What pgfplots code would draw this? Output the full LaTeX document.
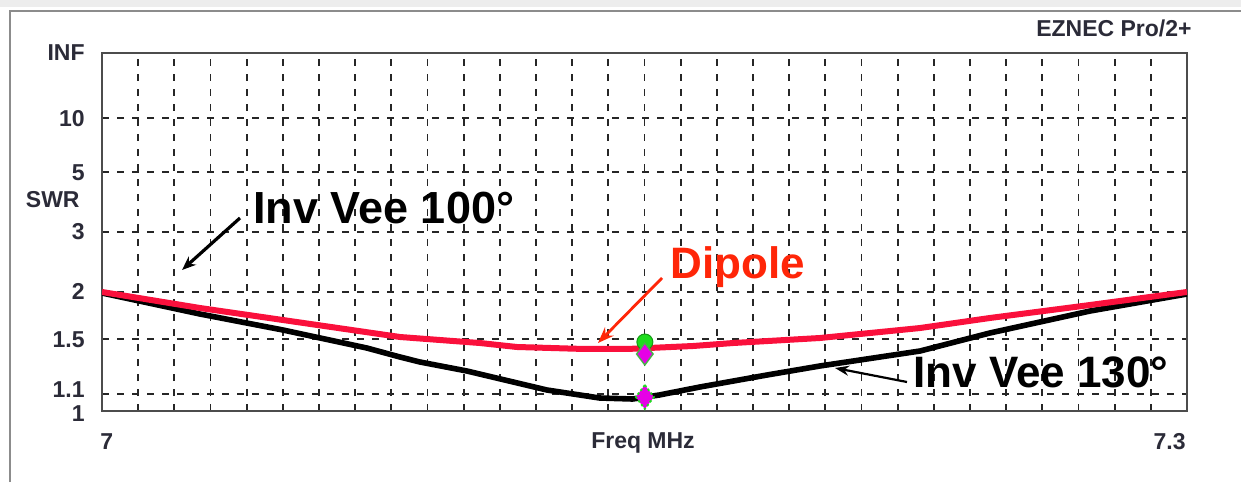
\documentclass[border=0pt]{standalone}
\usepackage{fontspec}
\setmainfont{Liberation Sans}
\usepackage{pgfplots}
\pgfplotsset{compat=1.18}
\usetikzlibrary{arrows.meta}
\definecolor{gridc}{HTML}{262626}
\definecolor{tickc}{HTML}{2B2B38}
\definecolor{redline}{RGB}{250,16,60}
\definecolor{dipolec}{RGB}{255,38,8}
\definecolor{mkgreen}{RGB}{30,220,30}
\definecolor{mkmag}{RGB}{230,0,230}
\begin{document}
\begin{tikzpicture}
\path[use as bounding box] (0,0) rectangle (620.5pt,241pt);
\fill[white] (0,0) rectangle (620.5pt,241pt);
\fill[black!7] (0,237.5pt) rectangle (620.5pt,241pt);
\draw[black!45, line width=1.3pt] (5pt,0) -- (5pt,235.5pt) -- (620.5pt,235.5pt);
\begin{axis}[
  at={(51pt,35.5pt)}, anchor=south west,
  scale only axis, width=542.5pt, height=179pt,
  xmin=7, xmax=7.3, ymin=0, ymax=1,
  xtick={7,7.3}, xticklabels={},
  minor xtick={7.01,7.02,7.03,7.04,7.05,7.06,7.07,7.08,7.09,7.10,7.11,7.12,7.13,7.14,7.15,7.16,7.17,7.18,7.19,7.20,7.21,7.22,7.23,7.24,7.25,7.26,7.27,7.28,7.29},
  ytick={0,0.047619,0.2,0.333333,0.5,0.666667,0.818182,1},
  yticklabels={\raisebox{-5.2pt}[0pt][0pt]{1},\raisebox{-1.6pt}[0pt][0pt]{1.1},1.5,2,3,5,10,INF},
  xmajorgrids=false, xminorgrids=true, ymajorgrids=true,
  major grid style={dash pattern=on 3.5pt off 4pt, line width=0.9pt, draw=gridc},
  minor grid style={dash pattern=on 3.5pt off 4pt, line width=0.9pt, draw=gridc},
  tick align=inside, xtick pos=bottom, ytick pos=left,
  minor tick length=2.5pt, major tick length=0pt,
  tick style={line width=0.8pt, draw=gridc},
  axis line style={draw=black!70, line width=1.2pt},
  yticklabel style={font=\bfseries\fontsize{11.5}{12}\selectfont, text=tickc, inner sep=0pt, xshift=-8.5pt},
  clip=true,
]
\addplot[black, line width=2.8pt, line join=round] coordinates {
(7.0000,0.3296) (7.0271,0.2709) (7.0500,0.2263) (7.0732,0.1760) (7.0824,0.1508)
(7.0879,0.1369) (7.1009,0.1117) (7.1230,0.0587) (7.1376,0.0363) (7.1467,0.0335)
(7.1541,0.0447) (7.1653,0.0670) (7.1839,0.1006) (7.1985,0.1257) (7.2262,0.1676)
(7.2455,0.2179) (7.2732,0.2793) (7.3000,0.3268)
};
\addplot[redline, line width=3pt, line join=round] coordinates {
(7.0000,0.3324) (7.0271,0.2877) (7.0500,0.2542) (7.0824,0.2067) (7.1045,0.1899)
(7.1147,0.1788) (7.1334,0.1732) (7.1452,0.1732) (7.1635,0.1816) (7.1745,0.1899)
(7.1985,0.2039) (7.2262,0.2318) (7.2455,0.2598) (7.2732,0.2961) (7.3000,0.3324)
};
\addplot[only marks, mark=*, mark size=4pt, mark options={fill=mkgreen, draw=mkgreen!70!black, line width=0.5pt}] coordinates {(7.1501,0.1927)};
\addplot[only marks, mark=diamond*, mark size=5.5pt, mark options={fill=mkmag, draw=mkgreen!60!gray, line width=0.7pt}] coordinates {(7.1501,0.1592)};
\addplot[only marks, mark=diamond*, mark size=6pt, mark options={fill=mkmag, draw=mkgreen, line width=0.9pt, dash pattern=on 1.2pt off 1.2pt}] coordinates {(7.1501,0.0391)};
\end{axis}
% axis texts
\node[anchor=east, font=\bfseries\fontsize{11.5}{12}\selectfont, text=tickc, inner sep=0pt] at (40pt,141pt) {SWR};
\node[anchor=west, font=\bfseries\fontsize{11.5}{12}\selectfont, text=tickc, inner sep=0pt] at (50pt,20pt) {7};
\node[anchor=east, font=\bfseries\fontsize{11.5}{12}\selectfont, text=tickc, inner sep=0pt] at (593pt,20pt) {7.3};
\node[anchor=center, font=\bfseries\fontsize{11.5}{12}\selectfont, text=tickc, inner sep=0pt] at (321.5pt,19.5pt) {Freq MHz};
\node[anchor=east, font=\bfseries\fontsize{11.5}{12}\selectfont, text=tickc, inner sep=0pt] at (596pt,227pt) {EZNEC Pro/2+};
% annotations
\node[anchor=west, font=\bfseries\fontsize{22.5}{24}\selectfont, inner sep=0pt] at (126.5pt,137pt) {Inv Vee 100°};
\draw[black, line width=1.6pt, -{Stealth[length=7pt,width=5.5pt]}] (120pt,132pt) -- (91pt,106pt);
\node[anchor=west, font=\bfseries\fontsize{22}{24}\selectfont, text=dipolec, inner sep=0pt] at (335pt,107.5pt) {Dipole};
\draw[dipolec, line width=1.4pt, -{Stealth[length=8pt,width=6pt]}] (331pt,102pt) -- (299pt,69.5pt);
\node[anchor=west, font=\bfseries\fontsize{22}{24}\selectfont, inner sep=0pt] at (456.5pt,55pt) {Inv Vee 130°};
\draw[black, line width=1.1pt, -{Stealth[length=7pt,width=5pt]}] (453.5pt,50pt) -- (417.5pt,57pt);
\end{tikzpicture}
\end{document}
